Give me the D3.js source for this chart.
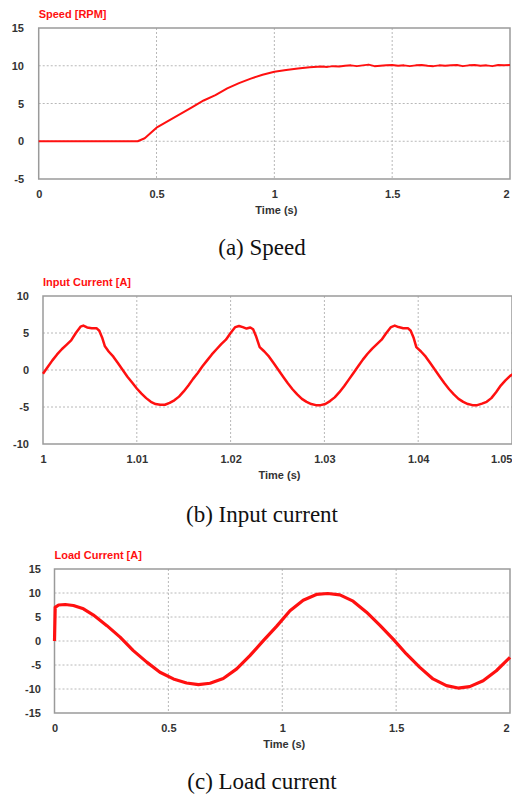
<!DOCTYPE html>
<html>
<head>
<meta charset="utf-8">
<script src="https://cdn.jsdelivr.net/npm/d3@7"></script>
<style>
  body { margin: 0; background: #fff; }
  svg { display: block; }
</style>
</head>
<body>
<div id="chart"></div>
<script>
// (a) speed
const speedTime = [0, 0.1, 0.2, 0.3, 0.4, 0.42, 0.45, 0.5, 0.55, 0.6, 0.65, 0.7, 0.75, 0.8, 0.85, 0.9, 0.95, 1.0,
  1.05, 1.1, 1.15, 1.2, 1.225, 1.25, 1.275, 1.3, 1.325, 1.35, 1.375, 1.4, 1.425, 1.45, 1.475, 1.5, 1.525, 1.55,
  1.575, 1.6, 1.625, 1.65, 1.675, 1.7, 1.725, 1.75, 1.775, 1.8, 1.825, 1.85, 1.875, 1.9, 1.925, 1.95, 1.975, 2.0];
const speedValue = [0, 0, 0, 0, 0, 0, 0.4, 1.8, 2.7, 3.6, 4.5, 5.4, 6.1, 7.0, 7.7, 8.3, 8.8, 9.2,
  9.45, 9.65, 9.8, 9.9, 9.85, 9.95, 9.9, 10.0, 10.05, 9.95, 10.05, 10.15, 9.95, 10.0, 10.05, 10.1, 10.0, 10.05,
  9.95, 10.05, 10.1, 10.0, 9.95, 10.05, 10.0, 10.05, 10.1, 9.95, 10.05, 10.1, 10.0, 10.05, 9.95, 10.1, 10.05, 10.1];

// (b) input current
const inputTime = [1.0000, 1.0005, 1.0010, 1.0015, 1.0020, 1.0025, 1.0030, 1.0035, 1.0040, 1.0043, 1.0047, 1.0052,
  1.0057, 1.0060, 1.0063, 1.0066, 1.0070, 1.0075, 1.0080, 1.0085, 1.0090, 1.0095, 1.0100, 1.0105, 1.0110, 1.0115,
  1.0120, 1.0125, 1.0130, 1.0135, 1.0140, 1.0145, 1.0150, 1.0155, 1.0160, 1.0165, 1.0170, 1.0175, 1.0180, 1.0185,
  1.0190, 1.0195, 1.0200, 1.0205, 1.0209, 1.0213, 1.0217, 1.0221, 1.0224, 1.0227, 1.0231, 1.0236, 1.0241, 1.0246,
  1.0251, 1.0256, 1.0261, 1.0266, 1.0271, 1.0276, 1.0281, 1.0286, 1.0291, 1.0296, 1.0301, 1.0306, 1.0311, 1.0316,
  1.0321, 1.0326, 1.0331, 1.0336, 1.0341, 1.0346, 1.0351, 1.0356, 1.0361, 1.0366, 1.0371, 1.0375, 1.0379, 1.0384,
  1.0389, 1.0392, 1.0395, 1.0398, 1.0403, 1.0408, 1.0413, 1.0418, 1.0423, 1.0428, 1.0433, 1.0438, 1.0443, 1.0448,
  1.0453, 1.0458, 1.0463, 1.0468, 1.0473, 1.0478, 1.0483, 1.0488, 1.0493, 1.0498, 1.0502];
const inputValue = [-0.5, 0.4, 1.3, 2.1, 2.8, 3.4, 4.0, 5.0, 5.85, 6.0, 5.75, 5.65,
  5.65, 5.3, 4.4, 3.2, 2.5, 1.8, 0.9, 0.0, -0.9, -1.7, -2.5, -3.2, -3.8, -4.3,
  -4.6, -4.7, -4.7, -4.45, -4.1, -3.6, -2.9, -2.1, -1.2, -0.4, 0.5, 1.3, 2.1, 2.8,
  3.5, 4.1, 5.0, 5.8, 5.95, 5.8, 5.6, 5.75, 5.5, 4.6, 3.1, 2.5, 1.8, 0.9,
  0.0, -0.9, -1.8, -2.6, -3.3, -3.9, -4.3, -4.6, -4.75, -4.75, -4.6, -4.2, -3.7, -3.0,
  -2.2, -1.3, -0.4, 0.5, 1.4, 2.2, 2.9, 3.5, 4.1, 5.0, 5.8, 6.0, 5.8, 5.65,
  5.65, 5.3, 4.4, 3.1, 2.5, 1.8, 0.9, 0.0, -0.9, -1.8, -2.6, -3.3, -3.9, -4.3,
  -4.6, -4.75, -4.75, -4.55, -4.3, -3.8, -3.0, -2.1, -1.4, -0.8, -0.5];

// (c) load current
const loadTime = [0, 0.003, 0.018, 0.047, 0.083, 0.127, 0.171, 0.23, 0.288, 0.346, 0.405, 0.463, 0.522, 0.58,
  0.632, 0.683, 0.741, 0.8, 0.858, 0.917, 0.975, 1.034, 1.092, 1.15, 1.2, 1.253, 1.311, 1.37, 1.428, 1.487,
  1.545, 1.604, 1.662, 1.721, 1.772, 1.823, 1.882, 1.94, 2.0];
const loadValue = [0, 7.0, 7.5, 7.6, 7.4, 6.7, 5.4, 3.2, 0.8, -2.0, -4.4, -6.5, -7.9, -8.75,
  -9.1, -8.8, -7.8, -5.8, -3.05, 0.07, 3.05, 6.3, 8.5, 9.7, 9.9, 9.6, 8.3, 6.0, 3.3, 0.4,
  -2.7, -5.5, -7.9, -9.3, -9.8, -9.5, -8.3, -6.2, -3.4];

// tick labels
const ticksTime2s = ['0', '0.5', '1', '1.5', '2'];
const ticksTimeInput = ['1', '1.01', '1.02', '1.03', '1.04', '1.05'];
const ticksSpeed = ['-5', '0', '5', '10', '15'];
const ticksInput = ['-10', '-5', '0', '5', '10'];
const ticksLoad = ['-15', '-10', '-5', '0', '5', '10', '15'];

const svg = d3.select('#chart')
  .append('svg')
  .attr('width', 512)
  .attr('height', 796);

const red = '#ff1010';

function drawPanel(p) {
  const x = d3.scaleLinear().domain(p.xDomain).range([p.left, p.right]);
  const y = d3.scaleLinear().domain(p.yDomain).range([p.bottom, p.top]);
  const xt = p.xTicks.map(Number);
  const yt = p.yTicks.map(Number);

  const g = svg.append('g');

  // dotted grid
  g.append('g')
    .selectAll('line.vx')
    .data(xt.slice(1, -1))
    .enter()
    .append('line')
    .attr('x1', d => x(d)).attr('x2', d => x(d))
    .attr('y1', p.top).attr('y2', p.bottom)
    .attr('stroke', '#b8b8b8')
    .attr('stroke-dasharray', '2 2');

  g.append('g')
    .selectAll('line.hy')
    .data(yt.slice(1, -1))
    .enter()
    .append('line')
    .attr('x1', p.left).attr('x2', p.right)
    .attr('y1', d => y(d)).attr('y2', d => y(d))
    .attr('stroke', '#b8b8b8')
    .attr('stroke-dasharray', '2 2');

  // frame
  g.append('rect')
    .attr('x', p.left).attr('y', p.top)
    .attr('width', p.right - p.left).attr('height', p.bottom - p.top)
    .attr('fill', 'none')
    .attr('stroke', '#9a9a9a')
    .attr('stroke-width', 1.5);

  // axes, labels only
  const xAxis = g.append('g')
    .attr('transform', `translate(0, ${p.bottom + 8})`)
    .call(d3.axisBottom(x).tickValues(xt).tickSize(0).tickFormat((d, i) => p.xTicks[i]));
  const yAxis = g.append('g')
    .attr('transform', `translate(${p.yLabelX}, 0)`)
    .call(d3.axisLeft(y).tickValues(yt).tickSize(0).tickFormat((d, i) => p.yTicks[i]));
  [xAxis, yAxis].forEach(a => {
    a.select('.domain').remove();
    a.selectAll('text')
      .attr('fill', '#333')
      .style('font-family', '"Liberation Sans", Arial, sans-serif')
      .style('font-size', '11px')
      .style('font-weight', 'bold');
  });
  yAxis.selectAll('text').attr('dx', 0).attr('x', 0);
  // last label at the right edge: keep it inside the page
  xAxis.selectAll('text')
    .filter((d, i) => i == xt.length - 1)
    .attr('text-anchor', 'end')
    .attr('x', p.lastLabelShift);

  g.append('text')
    .attr('x', (p.left + p.right) / 2 + 2)
    .attr('y', p.bottom + 35)
    .attr('text-anchor', 'middle')
    .attr('fill', '#333')
    .style('font-family', '"Liberation Sans", Arial, sans-serif')
    .style('font-size', '11px')
    .style('font-weight', 'bold')
    .text('Time (s)');

  // title in red
  g.append('text')
    .attr('x', p.left)
    .attr('y', p.top - 10)
    .attr('fill', red)
    .style('font-family', '"Liberation Sans", Arial, sans-serif')
    .style('font-size', '11px')
    .style('font-weight', 'bold')
    .text(p.title);

  const line = d3.line()
    .x((d, i) => x(p.t[i]))
    .y(d => y(d));

  g.append('path')
    .datum(p.v)
    .attr('fill', 'none')
    .attr('stroke', red)
    .attr('stroke-width', p.lineWidth)
    .attr('stroke-linejoin', 'round')
    .attr('d', line);

  // caption below
  svg.append('text')
    .attr('x', 262)
    .attr('y', p.captionY)
    .attr('text-anchor', 'middle')
    .attr('fill', '#111')
    .style('font-family', '"Liberation Serif", "Times New Roman", serif')
    .style('font-size', '23px')
    .text(p.caption);
}

drawPanel({
  left: 38.7, right: 510, top: 28, bottom: 179, yLabelX: 24, lastLabelShift: -1,
  xDomain: [0, 2], yDomain: [-5, 15],
  xTicks: ticksTime2s, yTicks: ticksSpeed,
  t: speedTime, v: speedValue, lineWidth: 2,
  title: 'Speed [RPM]', caption: '(a) Speed', captionY: 255
});

drawPanel({
  left: 43, right: 512, top: 296, bottom: 444, yLabelX: 29, lastLabelShift: 0,
  xDomain: [1, 1.05], yDomain: [-10, 10],
  xTicks: ticksTimeInput, yTicks: ticksInput,
  t: inputTime, v: inputValue, lineWidth: 2.5,
  title: 'Input Current [A]', caption: '(b) Input current', captionY: 522
});

drawPanel({
  left: 54.5, right: 510, top: 569, bottom: 713, yLabelX: 41, lastLabelShift: -1,
  xDomain: [0, 2], yDomain: [-15, 15],
  xTicks: ticksTime2s, yTicks: ticksLoad,
  t: loadTime, v: loadValue, lineWidth: 3.2,
  title: 'Load Current [A]', caption: '(c) Load current', captionY: 789
});
</script>
</body>
</html>
